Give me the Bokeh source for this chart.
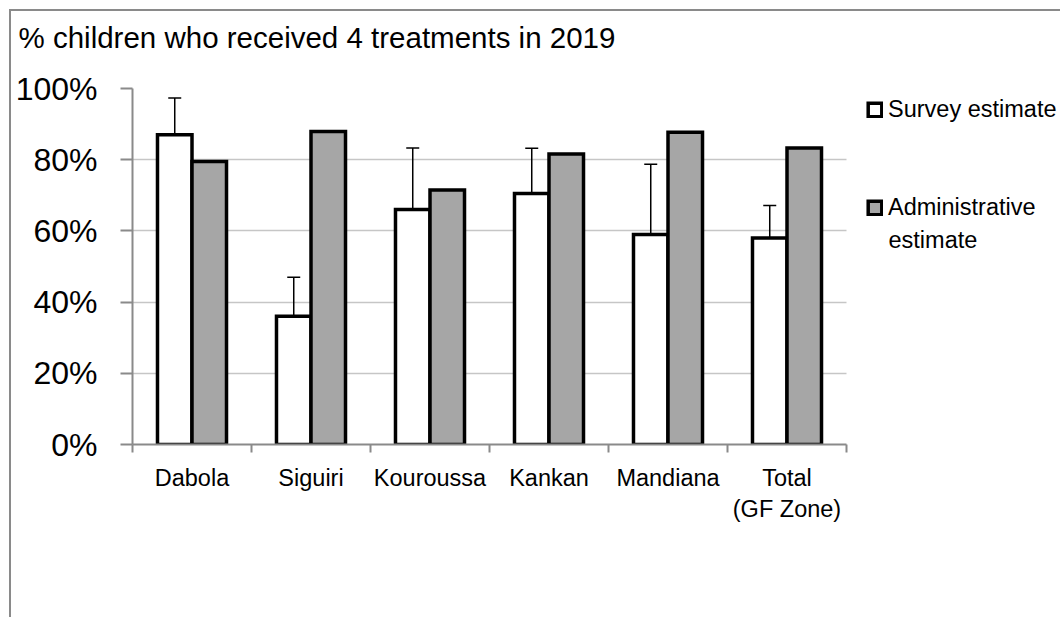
from bokeh.plotting import figure
from bokeh.models import (ColumnDataSource, Whisker, TeeHead, Legend, LegendItem, Label, Title,
                          FixedTicker, NumeralTickFormatter, Range1d, InlineStyleSheet)
from bokeh.embed import file_html
from bokeh.resources import INLINE

# Share of children who received 4 treatments in 2019, by district
districts = ["Dabola", "Siguiri", "Kouroussa", "Kankan", "Mandiana", "Total\n(GF Zone)"]
survey = [0.87, 0.36, 0.66, 0.705, 0.59, 0.58]
survey_low = [0.55, 0.262, 0.43, 0.54, 0.36, 0.48]
survey_high = [0.973, 0.47, 0.833, 0.832, 0.787, 0.671]
admin = [0.795, 0.879, 0.715, 0.816, 0.877, 0.833]

FONT = "Liberation Sans"
AXIS_GREY = "#8a8a8a"
BAR_GREY = "#a6a6a6"

n = len(districts)
centers = [i + 0.5 for i in range(n)]
half = 0.145
src = ColumnDataSource(dict(
    xs=[c - half for c in centers],
    xa=[c + half for c in centers],
    survey=survey, admin=admin, lo=survey_low, hi=survey_high,
))

W, H = 1060, 617
L, T, B = 132, 88, 173
CAT_PX = 119  # width of one district slot
PLOT_H = H - T - B

p = figure(width=W, height=H, output_backend="svg", toolbar_location=None,
           x_range=Range1d(0, (W - L) / CAT_PX), y_range=Range1d(0, 1),
           min_border_left=L, min_border_right=0, min_border_top=T, min_border_bottom=B)
p.outline_line_color = None
p.background_fill_color = "white"
p.border_fill_color = "white"

r_s = p.vbar(x="xs", top="survey", width=0.29, source=src, fill_color="white",
             line_color="black", line_width=3.5, line_join="miter")
r_a = p.vbar(x="xa", top="admin", width=0.29, source=src, fill_color=BAR_GREY,
             line_color="black", line_width=3.5, line_join="miter")

head = dict(size=13, line_width=1.5, line_color="black")
p.add_layout(Whisker(base="xs", upper="hi", lower="lo", source=src,
                     line_width=1.5, line_color="black",
                     upper_head=TeeHead(**head), lower_head=TeeHead(**head)))

# y axis
yax = p.yaxis[0]
yax.ticker = FixedTicker(ticks=[0, 0.2, 0.4, 0.6, 0.8, 1.0])
yax.formatter = NumeralTickFormatter(format="0%")
yax.axis_line_color = AXIS_GREY
yax.axis_line_width = 2
yax.major_tick_line_color = AXIS_GREY
yax.major_tick_line_width = 2
yax.major_tick_out = 12
yax.major_tick_in = 0
yax.minor_tick_line_color = None
yax.major_label_text_font = FONT
yax.major_label_text_font_size = "32px"
yax.major_label_text_color = "black"
yax.major_label_standoff = 23

# x axis: labels at the district centres, ticks at the slot boundaries
xax = p.xaxis[0]
xax.bounds = (0, n)
xax.ticker = FixedTicker(ticks=centers, minor_ticks=list(range(n + 1)))
xax.major_label_overrides = {c: d for c, d in zip(centers, districts)}
xax.axis_line_color = AXIS_GREY
xax.axis_line_width = 2
xax.major_tick_line_color = None
xax.major_tick_out = 0
xax.major_tick_in = 0
xax.minor_tick_line_color = AXIS_GREY
xax.minor_tick_line_width = 2
xax.minor_tick_out = 8
xax.minor_tick_in = 0
xax.major_label_text_font = FONT
xax.major_label_text_font_size = "23.5px"
xax.major_label_text_color = "black"
xax.major_label_standoff = 12

p.xgrid.grid_line_color = None
ygrid = p.ygrid[0]
ygrid.grid_line_color = "#c6c6c6"
ygrid.grid_line_width = 1.5
ygrid.cross_bounds = (0, n)

# chart title, lifted clear of the plot area by a blank spacer row
p.title.text = "% children who received 4 treatments in 2019"
p.title.text_font = FONT
p.title.text_font_size = "29.5px"
p.title.text_font_style = "normal"
p.title.text_color = "black"
p.title.align = "left"
p.title.vertical_align = "bottom"
p.title.offset = 18 - L
p.title.standoff = 0
p.add_layout(Title(text=" ", text_font_size="1px", standoff=32), "above")

# legend to the right of the bars
LEG_FONT = "23.5px"
legend = Legend(items=[LegendItem(label="Survey estimate", renderers=[r_s]),
                       LegendItem(label="Administrative", renderers=[r_a])],
                location=(734, 223), glyph_width=17, glyph_height=17,
                label_standoff=5, padding=0, margin=0, spacing=71,
                border_line_color=None, background_fill_alpha=0,
                label_text_font=FONT, label_text_font_size=LEG_FONT,
                label_text_color="black")
p.add_layout(legend)
# second line of the wrapped legend entry
p.add_layout(Label(x=(888 - L) / CAT_PX, y=(H - B - 239) / PLOT_H, text="estimate",
                   text_font=FONT, text_font_size=LEG_FONT, text_color="black",
                   text_baseline="middle", text_align="left"))

# thin border along the top and left of the chart area
p.stylesheets = [InlineStyleSheet(css="""
:host { position: relative; }
:host::after {
  content: ""; position: absolute; left: 9px; top: 9px; right: -10px; bottom: -10px;
  border-left: 2px solid #8a8a8a; border-top: 2px solid #8a8a8a;
  pointer-events: none;
}
""")]

open("out.html", "w").write(file_html(p, INLINE))
